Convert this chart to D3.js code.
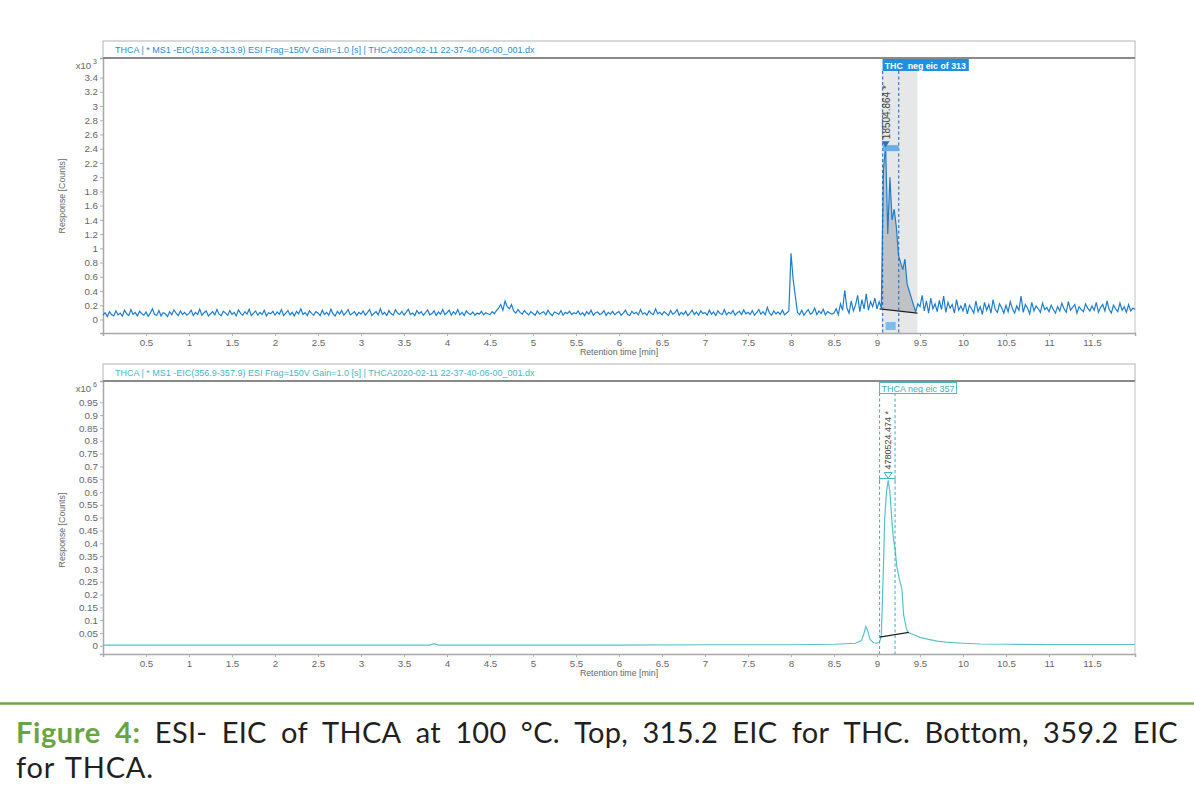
<!DOCTYPE html>
<html>
<head>
<meta charset="utf-8">
<script src="https://cdn.jsdelivr.net/npm/d3@7"></script>
<style>
body { margin: 0; background: #fff; }
text { font-family: "Liberation Sans", Arial, sans-serif; }
</style>
</head>
<body>
<svg id="fig" width="1194" height="797"></svg>
<script>
// ---- data ----
// top trace: EIC 312.9-313.9, counts, one point every 0.025 min from 0 to 12 min
const topStart = 0, topStep = 0.025;
const topCounts = [
  60,95,40,110,70,50,120,65,90,45,130,80,55,140,70,100,50,115,85,60,
  105,45,90,150,70,60,125,50,95,80,40,110,65,135,90,55,120,70,100,60,
  85,130,55,100,70,145,60,95,120,50,80,110,65,140,75,55,115,90,60,125,
  70,100,50,135,85,60,110,75,145,55,90,120,60,100,70,130,50,95,80,115,
  60,105,75,140,55,90,125,65,100,50,115,80,150,70,95,55,120,85,60,110,
  90,55,130,70,100,60,145,80,50,115,75,125,60,95,140,65,85,110,55,100,
  75,120,60,95,140,55,85,110,65,150,70,100,55,125,80,60,135,90,70,115,
  60,100,145,70,90,55,125,80,110,60,95,135,65,85,120,55,105,75,140,70,
  95,130,60,110,75,140,65,100,55,120,85,70,105,60,90,75,115,65,95,80,
  70,110,80,125,160,210,130,260,180,150,210,120,90,140,100,75,125,90,65,110,
  85,60,120,75,95,110,65,130,80,55,105,90,70,125,60,100,85,115,70,95,
  80,120,65,95,55,110,75,130,60,90,105,70,85,125,55,100,75,115,65,95,
  110,60,90,130,70,55,115,80,100,65,140,75,95,60,120,85,70,150,80,100,
  65,110,85,55,125,75,95,140,60,100,70,115,55,90,130,70,105,60,120,85,
  95,60,130,75,105,55,120,85,70,140,65,100,80,125,60,95,115,70,135,80,
  100,70,125,60,95,140,75,110,65,170,90,60,120,80,105,70,130,65,90,120,
  930,560,330,100,70,130,60,105,140,75,95,160,70,120,85,145,65,110,90,75,
  90,150,70,220,130,410,160,90,260,120,200,340,110,280,150,360,130,250,180,300,
  150,250,160,2100,2450,1200,2000,1400,1550,1300,900,800,700,850,500,400,300,200,110,220,
  180,340,120,260,90,300,150,220,110,270,140,330,100,240,160,210,90,280,130,190,
  120,230,80,200,150,90,260,110,180,70,240,130,210,90,280,140,100,220,160,90,
  200,110,250,150,90,190,130,330,100,210,160,80,240,120,190,150,100,230,140,170,
  110,200,140,90,180,120,230,150,100,250,130,170,210,90,180,140,110,220,160,120,
  190,130,240,100,170,210,120,260,140,90,200,150,110,230,130,180,100,210,120,160,
  140
];
// bottom trace: EIC 356.9-357.9, x10^6 counts
const bottomTimes = [0,1,2,3,3.8,3.85,3.9,5,6,7,8,8.5,8.75,8.82,8.85,8.87,8.89,8.92,8.96,9.0,
  9.03,9.05,9.07,9.09,9.11,9.13,9.15,9.17,9.19,9.21,9.23,9.26,9.29,9.31,9.34,9.36,9.4,9.45,9.5,9.6,
  9.7,9.8,10.0,10.2,10.5,11,12];
const bottomValues = [0.003,0.003,0.003,0.003,0.003,0.008,0.003,0.003,0.003,0.004,0.004,0.006,0.01,0.02,0.05,0.075,0.06,0.025,0.012,0.01,
  0.015,0.04,0.25,0.5,0.6,0.645,0.6,0.5,0.42,0.38,0.31,0.26,0.22,0.12,0.07,0.052,0.047,0.04,0.033,0.025,
  0.018,0.014,0.01,0.007,0.006,0.005,0.005];

const xTicks = [0.5,1,1.5,2,2.5,3,3.5,4,4.5,5,5.5,6,6.5,7,7.5,8,8.5,9,9.5,10,10.5,11,11.5];
const topYTicks = [0,0.2,0.4,0.6,0.8,1,1.2,1.4,1.6,1.8,2,2.2,2.4,2.6,2.8,3,3.2,3.4];
const bottomYTicks = [0,0.05,0.1,0.15,0.2,0.25,0.3,0.35,0.4,0.45,0.5,0.55,0.6,0.65,0.7,0.75,0.8,0.85,0.9,0.95];

// peak annotations
const topBand = [9.054, 9.469];          // grey integration window
const topDash = [9.066, 9.253];          // dashed start/end
const topBaseline = [[9.03, 150], [9.47, 90]];
const bottomDash = [9.03, 9.21];
const bottomBaseline = [[9.03, 0.034], [9.37, 0.052]];

const topTitle = "THCA | * MS1 -EIC(312.9-313.9) ESI Frag=150V Gain=1.0 [s] | THCA2020-02-11 22-37-40-06-00_001.dx";
const bottomTitle = "THCA | * MS1 -EIC(356.9-357.9) ESI Frag=150V Gain=1.0 [s] | THCA2020-02-11 22-37-40-06-00_001.dx";

const svg = d3.select("#fig");
const left = 103, right = 1135;
const x = d3.scaleLinear().domain([0, 12]).range([left, right]);

function drawFrame(p) {
  const g = svg.append("g");
  // title bar
  g.append("rect").attr("x", left).attr("y", p.barTop).attr("width", right - left)
    .attr("height", p.plotTop - p.barTop).attr("fill", "#fff").attr("stroke", "#b4b4b4");
  g.append("text").attr("x", left + 12).attr("y", p.barTop + 12)
    .attr("font-size", 9).attr("fill", p.titleColor).text(p.title);
  g.append("line").attr("x1", right).attr("x2", right).attr("y1", p.plotTop).attr("y2", p.plotBottom)
    .attr("stroke", "#c4c4c4");

  // axes
  const xa = g.append("g").attr("transform", `translate(0,${p.plotBottom})`)
    .call(d3.axisBottom(x).tickValues(xTicks).tickSize(3).tickPadding(3).tickFormat(d3.format("")));
  const ya = g.append("g").attr("transform", `translate(${left},0)`)
    .call(d3.axisLeft(p.y).tickValues(p.yTicks).tickSize(3).tickPadding(2).tickFormat(p.fmt));
  [xa, ya].forEach(a => {
    a.selectAll("text").attr("font-size", 9.8).attr("fill", "#666").attr("font-family", "Liberation Sans, Arial");
    a.selectAll(".tick line").attr("stroke", "#b0b0b0");
    a.select(".domain").attr("stroke", "#a8a8a8").attr("stroke-width", 1.5);
  });
  g.append("line").attr("x1", left).attr("x2", right).attr("y1", p.plotTop).attr("y2", p.plotTop)
    .attr("stroke", "#8a8a8a").attr("stroke-width", 2);

  // axis titles
  g.append("text").attr("x", (left + right) / 2).attr("y", p.plotBottom + 22)
    .attr("text-anchor", "middle").attr("font-size", 8.8).attr("fill", "#666").text("Retention time [min]");
  g.append("text").attr("transform", `translate(65,${p.yTitleY}) rotate(-90)`)
    .attr("text-anchor", "middle").attr("font-size", 8.8).attr("fill", "#666").text("Response [Counts]");
  // exponent label
  g.append("text").attr("x", 91).attr("y", p.plotTop + 11).attr("text-anchor", "end")
    .attr("font-size", 9.5).attr("fill", "#666").text("x10");
  g.append("text").attr("x", 93).attr("y", p.plotTop + 6).attr("font-size", 7)
    .attr("fill", "#666").text(p.exp);
  return g;
}

// ---------- top panel ----------
const yTop = d3.scaleLinear().domain([-190, 3675]).range([333, 58]);
const topP = { barTop: 41, plotTop: 58, plotBottom: 333, y: yTop, exp: "3", yTitleY: 196,
  yTicks: topYTicks.map(v => v * 1000), fmt: d => d3.format("")(+(d / 1000).toFixed(1)),
  title: topTitle, titleColor: "#2e8bd3" };
const topData = topCounts.map((c, i) => ({ t: topStart + i * topStep, v: c }));

svg.append("rect").attr("x", x(topBand[0])).attr("y", 58).attr("width", x(topBand[1]) - x(topBand[0]))
  .attr("height", 333 - 58).attr("fill", "#e5e7e9");
drawFrame(topP);

const baseTop = d3.scaleLinear().domain([topBaseline[0][0], topBaseline[1][0]])
  .range([topBaseline[0][1], topBaseline[1][1]]);
const peakPts = topData.filter(d => d.t >= topDash[0] - 0.02 && d.t <= topBand[1]);
svg.append("path").datum(peakPts)
  .attr("fill", "#bfc3c7")
  .attr("d", d3.area().x(d => x(d.t)).y0(d => yTop(baseTop(d.t))).y1(d => yTop(Math.max(d.v, baseTop(d.t)))));

svg.append("path").datum(topData)
  .attr("fill", "none").attr("stroke", "#1f7dcc").attr("stroke-width", 1.2)
  .attr("d", d3.line().x(d => x(d.t)).y(d => yTop(d.v)));

svg.append("line").attr("x1", x(topBaseline[0][0])).attr("y1", yTop(topBaseline[0][1]))
  .attr("x2", x(topBaseline[1][0])).attr("y2", yTop(topBaseline[1][1]))
  .attr("stroke", "#222").attr("stroke-width", 1.3);

topDash.forEach(t => svg.append("line").attr("x1", x(t)).attr("x2", x(t)).attr("y1", 71).attr("y2", 333)
  .attr("stroke", "#1d5fae").attr("stroke-width", 1).attr("stroke-dasharray", "3,2.5"));

const apexTop = topData.reduce((a, b) => (b.v > a.v ? b : a));
svg.append("rect").attr("x", x(topDash[0])).attr("y", yTop(apexTop.v))
  .attr("width", x(topDash[1]) - x(topDash[0])).attr("height", 6).attr("fill", "#69ade6");
svg.append("path").attr("fill", "#1c74c6")
  .attr("d", `M${x(apexTop.t) - 4},${yTop(apexTop.v) - 4} h8 l-4,6 z`);
svg.append("rect").attr("x", x(topDash[0]) + 3).attr("y", 322)
  .attr("width", 10).attr("height", 8).attr("fill", "#7cbcef");
svg.append("text").attr("transform", `translate(${x(apexTop.t) + 4},${yTop(apexTop.v) - 6}) rotate(-90)`)
  .attr("font-size", 10).attr("fill", "#444").text("18504.864 *");

const topLab = svg.append("text").attr("x", x(topDash[0]) + 2).attr("y", 68.5).attr("font-size", 8.8)
  .attr("font-weight", "bold").attr("fill", "#fff").style("white-space", "pre").text("THC  neg eic of 313");
const topLabW = topLab.node().getComputedTextLength();
svg.insert("rect", () => topLab.node()).attr("x", x(topDash[0])).attr("y", 59)
  .attr("width", topLabW + 5).attr("height", 12).attr("fill", "#1d90e2");

// ---------- bottom panel ----------
const yBot = d3.scaleLinear().domain([-0.032, 1.033]).range([654, 381]);
const botP = { barTop: 364, plotTop: 381, plotBottom: 654, y: yBot, exp: "6", yTitleY: 530,
  yTicks: bottomYTicks, fmt: d3.format(""), title: bottomTitle, titleColor: "#3fbac3" };
drawFrame(botP);
const botData = bottomTimes.map((t, i) => ({ t: t, v: bottomValues[i] }));

svg.append("path").datum(botData)
  .attr("fill", "none").attr("stroke", "#55c3c9").attr("stroke-width", 1.2)
  .attr("d", d3.line().x(d => x(d.t)).y(d => yBot(d.v)));
svg.append("line").attr("x1", x(bottomBaseline[0][0])).attr("y1", yBot(bottomBaseline[0][1]))
  .attr("x2", x(bottomBaseline[1][0])).attr("y2", yBot(bottomBaseline[1][1]))
  .attr("stroke", "#222").attr("stroke-width", 1.3);
bottomDash.forEach(t => svg.append("line").attr("x1", x(t)).attr("x2", x(t)).attr("y1", 393).attr("y2", 654)
  .attr("stroke", "#2fb0c4").attr("stroke-width", 1).attr("stroke-dasharray", "3,2.5"));

const apexBot = botData.reduce((a, b) => (b.v > a.v ? b : a));
svg.append("path").attr("fill", "none").attr("stroke", "#3ab8c4")
  .attr("d", `M${x(bottomDash[0])},${yBot(apexBot.v) + 1} v-3 H${x(bottomDash[1])} v3`);
svg.append("path").attr("fill", "#fff").attr("stroke", "#3ab8c4")
  .attr("d", `M${x(apexBot.t) - 4},${yBot(apexBot.v) - 8} h8 l-4,6 z`);
svg.append("text").attr("transform", `translate(${x(apexBot.t) + 3},${yBot(apexBot.v) - 11}) rotate(-90)`)
  .attr("font-size", 9).attr("fill", "#444").text("4780524.474 *");
const botLab = svg.append("text").attr("x", x(bottomDash[0]) + 2).attr("y", 391.5).attr("font-size", 9)
  .attr("fill", "#38b2c0").text("THCA neg eic 357");
svg.insert("rect", () => botLab.node()).attr("x", x(bottomDash[0])).attr("y", 382.5)
  .attr("width", botLab.node().getComputedTextLength() + 4).attr("height", 11)
  .attr("fill", "#fff").attr("stroke", "#45b9c6");

// ---------- caption ----------
svg.append("line").attr("x1", 0).attr("x2", 1194).attr("y1", 703.5).attr("y2", 703.5)
  .attr("stroke", "#6fa64a").attr("stroke-width", 2.5);
const line1 = ["Figure", "4:", "ESI-", "EIC", "of", "THCA", "at", "100", "°C.", "Top,", "315.2", "EIC",
  "for", "THC.", "Bottom,", "359.2", "EIC"];
const cap = svg.append("g").attr("font-size", 29);
const words = cap.selectAll("text.w").data(line1).join("text").attr("class", "w")
  .attr("y", 743).text(d => d)
  .attr("font-weight", (d, i) => (i < 2 ? "bold" : "normal"))
  .attr("fill", (d, i) => (i < 2 ? "#6aa442" : "#231f20"))
  .style("font-family", "Lato, 'Open Sans', sans-serif")
  .style("letter-spacing", (d, i) => (i < 2 ? "0.6px" : "0.3px"));
const widths = words.nodes().map(n => n.getComputedTextLength());
const gap = (1178 - 16 - d3.sum(widths)) / (line1.length - 1);
let cx = 16;
words.attr("x", (d, i) => { const p = cx; cx += widths[i] + gap; return p; });
cap.append("text").attr("x", 16).attr("y", 778).attr("fill", "#231f20")
  .style("font-family", "Lato, 'Open Sans', sans-serif").style("letter-spacing", "0.8px")
  .style("word-spacing", "3px").text("for THCA.");
</script>
</body>
</html>
